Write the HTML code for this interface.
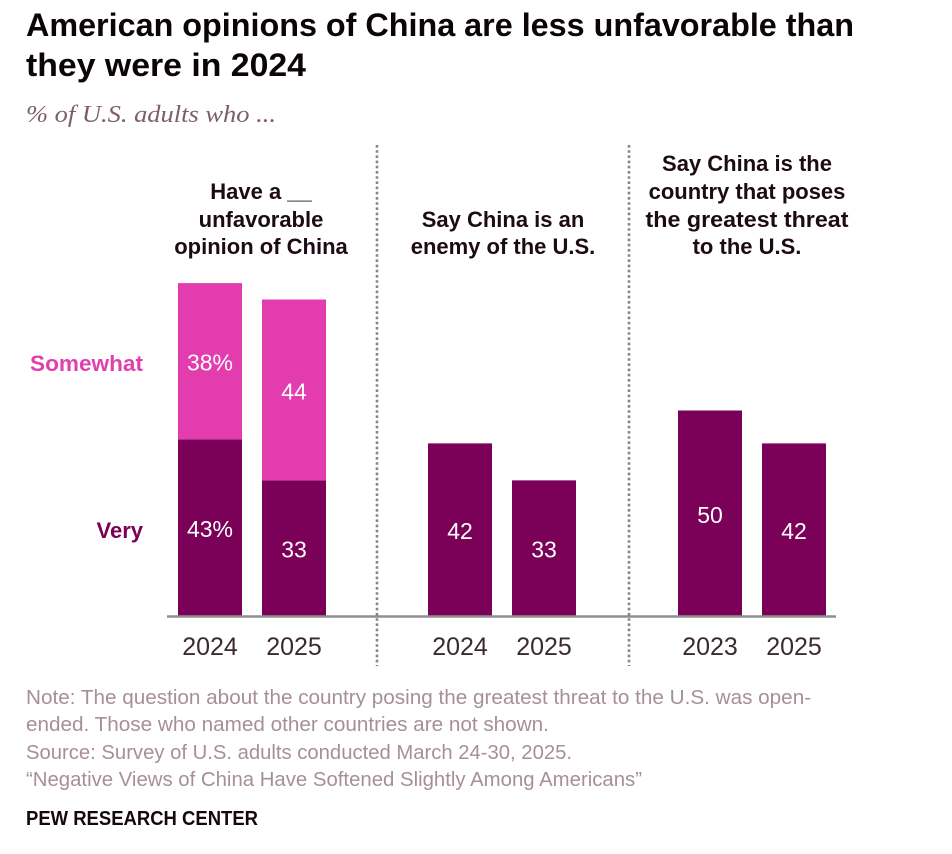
<!DOCTYPE html>
<html lang="en">
<head>
<meta charset="utf-8">
<title>American opinions of China</title>
<style>
html,body{margin:0;padding:0;background:#fff;}
svg{display:block;}
text{font-family:"Liberation Sans",sans-serif;}
.title{font-size:32.5px;font-weight:700;fill:#0b0508;}
.sub{font-family:"Liberation Serif",serif;font-style:italic;font-size:24.5px;fill:#7d5f69;}
.head{font-size:22px;font-weight:700;fill:#1c0b14;text-anchor:middle;}
.year{font-size:25px;fill:#3b2a32;text-anchor:middle;}
.val{font-size:23px;fill:#fff;text-anchor:middle;}
.row{font-size:22px;font-weight:700;text-anchor:end;}
.note{font-size:20.7px;fill:#a78f97;}
.org{font-size:20.5px;font-weight:700;fill:#14080e;}
</style>
</head>
<body>
<svg id="chart" xmlns="http://www.w3.org/2000/svg" width="952" height="854" viewBox="0 0 952 854">
  <text class="title" x="26" y="36" textLength="828" lengthAdjust="spacingAndGlyphs">American opinions of China are less unfavorable than</text>
  <text class="title" x="26" y="76" textLength="280" lengthAdjust="spacingAndGlyphs">they were in 2024</text>
  <text class="sub" x="26" y="122" textLength="250" lengthAdjust="spacingAndGlyphs">% of U.S. adults who ...</text>

  <text class="head" x="261" y="199">Have a __</text>
  <text class="head" x="261" y="227">unfavorable</text>
  <text class="head" x="261" y="254">opinion of China</text>
  <text class="head" x="503" y="227">Say China is an</text>
  <text class="head" x="503" y="254">enemy of the U.S.</text>
  <text class="head" x="747" y="171">Say China is the</text>
  <text class="head" x="747" y="199">country that poses</text>
  <text class="head" x="747" y="227" textLength="203" lengthAdjust="spacingAndGlyphs">the greatest threat</text>
  <text class="head" x="747" y="254">to the U.S.</text>

  <text class="row" x="143" y="371" fill="#e23fae" textLength="113" lengthAdjust="spacingAndGlyphs">Somewhat</text>
  <text class="row" x="143" y="538" fill="#7b0057">Very</text>

  <g id="bars"></g>

  <line x1="167" y1="616.5" x2="836" y2="616.5" stroke="#8f8f8f" stroke-width="2.6"/>
  <line x1="377" y1="145" x2="377" y2="666" stroke="#858585" stroke-width="2.6" stroke-dasharray="2.6 2.6"/>
  <line x1="629" y1="145" x2="629" y2="666" stroke="#858585" stroke-width="2.6" stroke-dasharray="2.6 2.6"/>

  <text class="note" x="26" y="704">Note: The question about the country posing the greatest threat to the U.S. was open-</text>
  <text class="note" x="26" y="731">ended. Those who named other countries are not shown.</text>
  <text class="note" x="26" y="759" textLength="546" lengthAdjust="spacingAndGlyphs">Source: Survey of U.S. adults conducted March 24-30, 2025.</text>
  <text class="note" x="26" y="786" textLength="616" lengthAdjust="spacingAndGlyphs">“Negative Views of China Have Softened Slightly Among Americans”</text>
  <text class="org" x="26" y="825" textLength="232" lengthAdjust="spacingAndGlyphs">PEW RESEARCH CENTER</text>
</svg>
<script>
// Data
const panelYears = [["2024", "2025"], ["2024", "2025"], ["2023", "2025"]];
const veryValues = [[43, 33], [42, 33], [50, 42]];
const somewhatValues = [[38, 44], [null, null], [null, null]];
const veryLabels = [["43%", "33"], ["42", "33"], ["50", "42"]];
const somewhatLabels = [["38%", "44"], [null, null], [null, null]];

// Axis functions
const baselineY = 616;
const pxPerPoint = 4.11;
const barWidth = 64;
const panelStart = [178, 428, 678];
const barStep = 84;
function yScale(v) { return baselineY - v * pxPerPoint; }
function xScale(panel, idx) { return panelStart[panel] + idx * barStep; }

const NS = "http://www.w3.org/2000/svg";
const barsGroup = document.getElementById("bars");

function drawSegment(panel, idx, startVal, val, fill, label, kind) {
  const x = xScale(panel, idx);
  const top = yScale(startVal + val);
  const bottom = yScale(startVal);
  const r = document.createElementNS(NS, "rect");
  
  
  r.setAttribute("class", kind);
  r.setAttribute("x", x);
  r.setAttribute("y", top);
  r.setAttribute("width", barWidth);
  r.setAttribute("height", bottom - top);
  r.setAttribute("fill", fill);
  barsGroup.appendChild(r);

  const t = document.createElementNS(NS, "text");
  
  
  t.setAttribute("class", "val");
  t.setAttribute("x", x + barWidth / 2);
  t.setAttribute("y", (top + bottom) / 2 + 9.5);
  t.textContent = label;
  barsGroup.appendChild(t);
}

panelYears.forEach(function (years, p) {
  years.forEach(function (year, i) {
    drawSegment(p, i, 0, veryValues[p][i], "#7b0057", veryLabels[p][i], "very");
    if (somewhatValues[p][i] !== null) {
      drawSegment(p, i, veryValues[p][i], somewhatValues[p][i], "#e33cae", somewhatLabels[p][i], "somewhat");
    }
    const yl = document.createElementNS(NS, "text");
    
    
    yl.setAttribute("class", "year");
    yl.setAttribute("x", xScale(p, i) + barWidth / 2);
    yl.setAttribute("y", 655);
    yl.textContent = year;
    barsGroup.appendChild(yl);
  });
});
</script>
</body>
</html>
